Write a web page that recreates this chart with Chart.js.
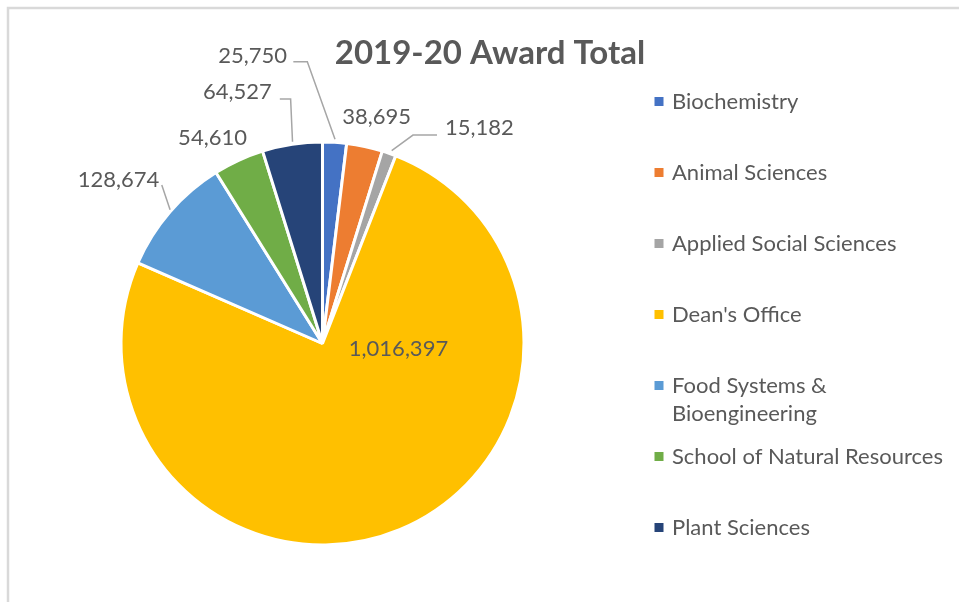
<!DOCTYPE html>
<html>
<head>
<meta charset="utf-8">
<script src="https://cdn.jsdelivr.net/npm/chart.js@4/dist/chart.umd.min.js"></script>
<style>
  html, body { margin: 0; padding: 0; background: #fff; }
  #wrap { width: 959px; height: 602px; }
</style>
</head>
<body>
<div id="wrap"><canvas id="awardCanvas" width="959" height="602"></canvas></div>
<script>
const chartTitle = "2019-20 Award Total";
const categories = [
  "Biochemistry",
  "Animal Sciences",
  "Applied Social Sciences",
  "Dean's Office",
  ["Food Systems &", "Bioengineering"],
  "School of Natural Resources",
  "Plant Sciences",
];
const awardTotals = [25750, 38695, 15182, 1016397, 128674, 54610, 64527];
const sliceColors = ["#4472C4", "#ED7D31", "#A5A5A5", "#FFC000", "#5B9BD5", "#70AD47", "#264478"];

const textColor = "#595959";
const fontFamily = "Lato, 'Open Sans', sans-serif";

// where each value label sits, relative to the middle of its slice's outer edge
// (inside: relative to the pie centre instead)
const labelLayout = [
  { dx: -47.6, dy: -86.2, align: "right", leader: [[0.4, -3.1], [-27.3, -80.7], [-41.3, -80.7]] },
  { dx: 12, dy: -29.5, align: "center" },
  { dx: 55.9, dy: -25.3, align: "left", leader: [[2.6, -2.6], [23.9, -18.3], [47.9, -18.3]] },
  { inside: true, dx: 76, dy: 5.5, align: "center" },
  { dx: -10.7, dy: -31.8, align: "right", leader: [[0, -2], [-8.3, -26.8]] },
  { dx: -26.1, dy: -22.3, align: "center" },
  { dx: -20.4, dy: -52.3, align: "right", leader: [[0.3, -2.6], [-1.6, -45.3], [-12.4, -45.3]] },
];

const excelLook = {
  id: "excelLook",
  beforeDraw(chart) {
    const ctx = chart.ctx;
    ctx.save();
    ctx.strokeStyle = "#D9D9D9";
    ctx.lineWidth = 2.5;
    ctx.beginPath();
    ctx.moveTo(8, chart.height + 2);
    ctx.lineTo(8, 8);
    ctx.lineTo(chart.width + 2, 8);
    ctx.stroke();
    ctx.restore();
  },
  afterDatasetsDraw(chart) {
    const ctx = chart.ctx;
    const arcs = chart.getDatasetMeta(0).data;
    ctx.save();
    ctx.font = "22px " + fontFamily;
    ctx.textBaseline = "middle";
    arcs.forEach((arc, i) => {
      const { x, y, startAngle, endAngle, outerRadius } = arc.getProps(["x", "y", "startAngle", "endAngle", "outerRadius"], true);
      const mid = (startAngle + endAngle) / 2;
      const ax = x + Math.cos(mid) * outerRadius;
      const ay = y + Math.sin(mid) * outerRadius;
      const lay = labelLayout[i];
      const bx = lay.inside ? x : ax;
      const by = lay.inside ? y : ay;
      if (lay.leader) {
        ctx.strokeStyle = "#A6A6A6";
        ctx.lineWidth = 1.5;
        ctx.beginPath();
        lay.leader.forEach(([px, py], k) => {
          if (k === 0) ctx.moveTo(ax + px, ay + py);
          else ctx.lineTo(ax + px, ay + py);
        });
        ctx.stroke();
      }
      ctx.fillStyle = textColor;
      ctx.textAlign = lay.align;
      ctx.fillText(awardTotals[i].toLocaleString("en-US"), bx + lay.dx, by + lay.dy);
    });

    // title
    ctx.font = "bold 33px " + fontFamily;
    ctx.textAlign = "center";
    ctx.fillText(chartTitle, 490, 53);

    // legend
    ctx.font = "22px " + fontFamily;
    ctx.textAlign = "left";
    chart.data.labels.forEach((lbl, i) => {
      const yy = 101.5 + i * 71;
      ctx.fillStyle = sliceColors[i];
      ctx.fillRect(654.5, yy - 4.5, 9, 9);
      ctx.fillStyle = textColor;
      const lines = Array.isArray(lbl) ? lbl : [lbl];
      lines.forEach((line, k) => ctx.fillText(line, 672, yy + k * 28.5));
    });
    ctx.restore();
  },
};

new Chart(document.getElementById("awardCanvas"), {
  type: "pie",
  data: {
    labels: categories,
    datasets: [
      {
        data: awardTotals,
        backgroundColor: sliceColors,
        borderColor: "#FFFFFF",
        borderWidth: 3,
      },
    ],
  },
  options: {
    responsive: false,
    animation: false,
    layout: { padding: { left: 119.5, right: 433.5, top: 140.5, bottom: 55.5 } },
    plugins: {
      legend: { display: false },
      title: { display: false },
      tooltip: { enabled: false },
    },
  },
  plugins: [excelLook],
});
</script>
</body>
</html>
